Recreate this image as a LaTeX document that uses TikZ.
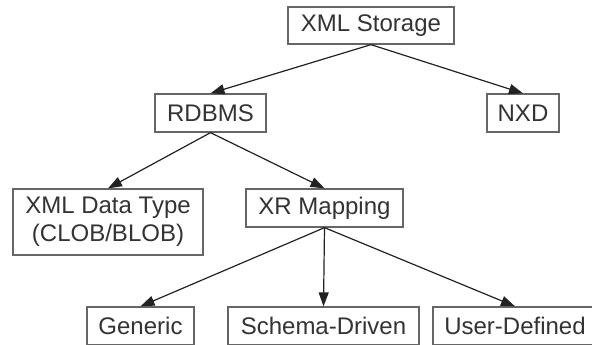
\documentclass[tikz,border=0pt]{standalone}
\usepackage{fontspec}
\setmainfont{Liberation Sans}
\usetikzlibrary{arrows.meta}
\definecolor{boxline}{HTML}{666666}
\definecolor{edgeline}{HTML}{222222}
\definecolor{labeltext}{HTML}{333333}
\begin{document}
\begin{tikzpicture}[x=1pt,y=-1pt,
  box/.style={draw=boxline, line width=1.3pt, fill=white, inner sep=0pt,
    text=labeltext, align=center, font=\fontsize{24}{28}\selectfont,
    minimum height=38pt},
  link/.style={draw=edgeline, line width=1.2pt,
    -{Triangle[length=14pt,width=10pt]}}]
  \useasboundingbox (0,0) rectangle (592,345);
  \begin{scope}
    \clip (0,0) rectangle (592,345);
    \node[box, minimum width=166pt, minimum height=37pt] (root) at (371,25.5) {XML Storage};
    \node[box, minimum width=111pt] (rdbms) at (210.5,113) {RDBMS};
    \node[box, minimum width=72pt] (nxd) at (523,113) {NXD};
    \node[box, minimum width=190pt, minimum height=66pt] (xdt) at (108,222) {XML Data Type\\(CLOB/BLOB)};
    \node[box, minimum width=157pt] (xr) at (324.5,208) {XR Mapping};
    \node[box, minimum width=107pt] (gen) at (140.5,326) {Generic};
    \node[box, minimum width=191pt] (sd) at (323.5,326) {Schema-Driven};
    \node[box, minimum width=164pt] (ud) at (515,326) {User-Defined};
    \draw[link] (root.south) -- (rdbms.north);
    \draw[link] (root.south) -- (nxd.north);
    \draw[link] (rdbms.south) -- (xdt.north);
    \draw[link] (rdbms.south) -- (xr.north);
    \draw[link] (xr.south) -- (gen.north);
    \draw[link] (xr.south) -- (sd.north);
    \draw[link] (xr.south) -- (ud.north);
  \end{scope}
\end{tikzpicture}
\end{document}
